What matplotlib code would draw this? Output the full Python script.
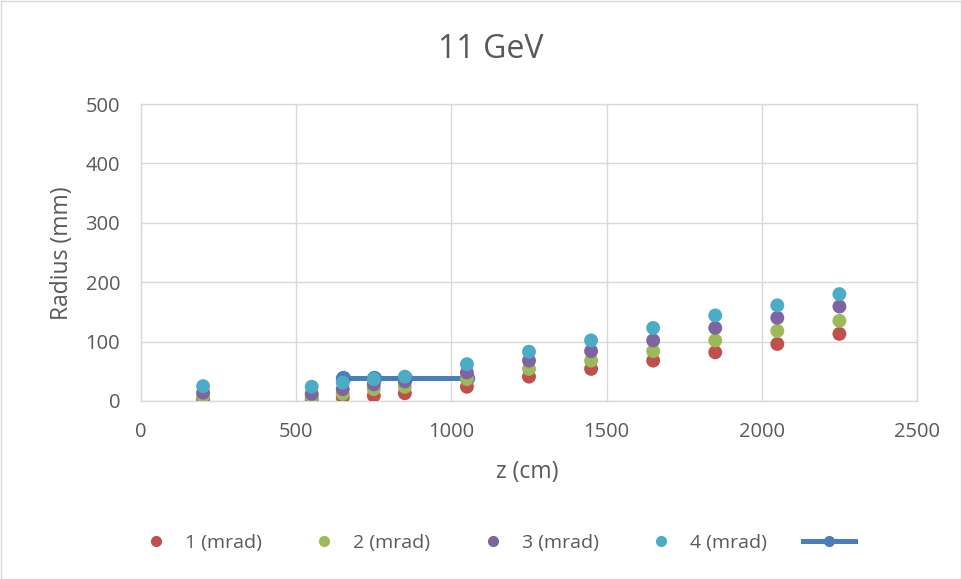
import matplotlib
matplotlib.use("Agg")
import matplotlib.pyplot as plt
from matplotlib.lines import Line2D

plt.rcParams['font.family'] = ['Open Sans', 'DejaVu Sans']

z = [200, 550, 650, 750, 850, 1050, 1250, 1450, 1650, 1850, 2050, 2250]
r1 = [3, 2, 6, 9, 13, 24, 41, 54, 68, 82, 96, 113]
r2 = [8, 7, 12, 20, 24, 37, 54, 68, 84, 102, 118, 135]
r3 = [14, 12, 20, 28, 33, 48, 68, 84, 102, 123, 140, 159]
r4 = [25, 24, 31, 37, 41, 62, 83, 102, 123, 144, 161, 180]
line_z = [650, 750, 850, 1050]
line_r = [38, 38, 38, 38]

series_labels = ['1 (mrad)', '2 (mrad)', '3 (mrad)', '4 (mrad)']
colors = ['#C0504D', '#9BBB59', '#8064A2', '#4BACC6']
line_color = '#4A7EBB'
text_color = '#595959'
grid_color = '#D9D9D9'

fig = plt.figure(figsize=(9.61, 5.79), dpi=100)
ax = fig.add_axes([141/961, 1-401/579, (917-141)/961, (401-104)/579])

ax.plot(line_z, line_r, color=line_color, lw=3.6, marker='o', ms=10, zorder=2)
for vals, c, lab in zip([r1, r2, r3, r4], colors, series_labels):
    ax.scatter(z, vals, s=100, color=c, zorder=3, edgecolors='none', label=lab)

ax.set_xlim(0, 2500)
ax.set_ylim(0, 500)
ax.set_xticks(range(0, 2501, 500))
ax.set_yticks(range(0, 501, 100))
ax.grid(True, color=grid_color, lw=1)
ax.set_axisbelow(True)
for s in ax.spines.values():
    s.set_color(grid_color)
    s.set_linewidth(1)
ax.tick_params(length=0, pad=15, labelsize=14.5, labelcolor=text_color)

fig.text(491/961, 1-50/579, '11 GeV', ha='center', va='center', fontsize=23, color=text_color)
fig.text(527/961, 1-472/579, 'z (cm)', ha='center', va='center', fontsize=16.5, color=text_color)
fig.text(62/961, 1-253/579, 'Radius (mm)', ha='center', va='center', rotation=90, fontsize=16.5, color=text_color)

handles = [Line2D([], [], ls='none', marker='o', ms=7, color=c) for c in colors]
handles.append(Line2D([], [], color=line_color, lw=3.6, marker='o', ms=7))
fig.legend(handles, series_labels + [''], loc='center', bbox_to_anchor=(494/961, 1-543/579),
           ncol=5, frameon=False, fontsize=14, labelcolor=text_color,
           handlelength=2.7, handletextpad=0.15, columnspacing=1.85)

border = plt.Rectangle((0.5/961, 0.5/579), 1-1/961, 1-1/579, transform=fig.transFigure,
                       fill=False, edgecolor=grid_color, lw=1)
fig.patches.append(border)

fig.savefig('out.png', dpi=100)
